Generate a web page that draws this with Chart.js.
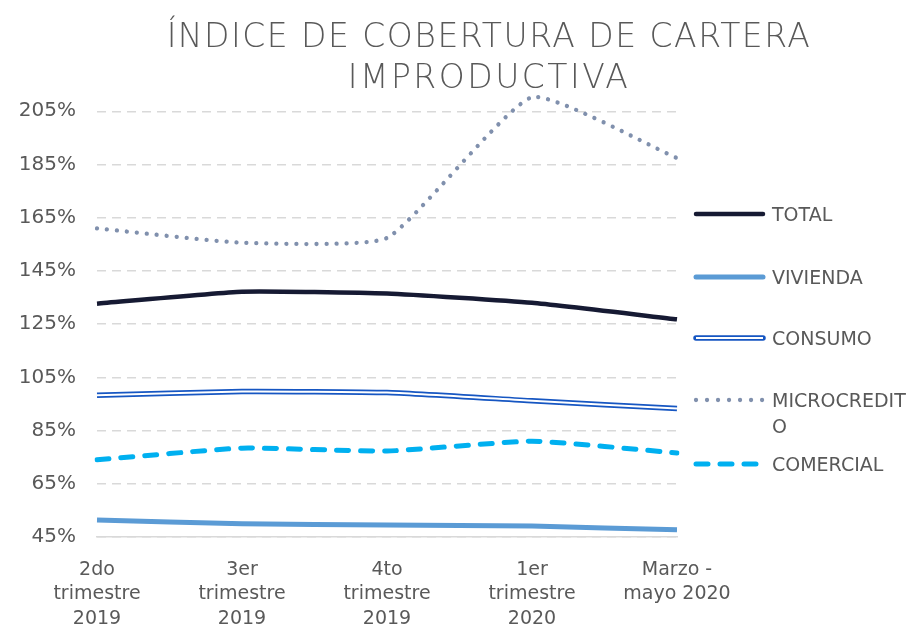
<!DOCTYPE html>
<html>
<head>
<meta charset="utf-8">
<script src="https://cdn.jsdelivr.net/npm/chart.js@4/dist/chart.umd.min.js"></script>
<style>
    html, body { margin: 0; padding: 0; background: #fff; }
    #wrap { position: relative; width: 920px; height: 628px; font-family: "DejaVu Sans", sans-serif; color: #595959; }
    #titulo {
        position: absolute; left: 29px; width: 920px; top: 15px;
        text-align: center; font-size: 33px; line-height: 41px; font-weight: 200;
        pointer-events: none;
    }
    #titulo .l1 { letter-spacing: 1.5px; }
    #titulo .l2 { letter-spacing: 2.5px; }
    #leyenda { position: absolute; left: 693px; top: 0; font-size: 19px; }
    .item { position: absolute; left: 0; display: flex; align-items: flex-start; }
    .item svg { flex: none; margin-right: 3px; }
    .item span { line-height: 26px; white-space: nowrap; }
</style>
</head>
<body>
<div id="wrap">
    <canvas id="grafico" width="920" height="628"></canvas>
    <div id="titulo"><span class="l1">ÍNDICE DE COBERTURA DE CARTERA</span><br><span class="l2">IMPRODUCTIVA</span></div>
    <div id="leyenda"></div>
</div>
<script>
// Datos
const periodos = [
    ['2do', 'trimestre', '2019'],
    ['3er', 'trimestre', '2019'],
    ['4to', 'trimestre', '2019'],
    ['1er', 'trimestre', '2020'],
    ['Marzo -', 'mayo 2020']
];
const total = [132.7, 137.2, 136.5, 133.0, 126.8];
const vivienda = [51.4, 50.0, 49.5, 49.1, 47.7];
const consumo = [98.3, 99.7, 99.3, 96.2, 93.3];
const microcredito = [161.0, 155.6, 157.4, 210.3, 187.4];
const comercial = [74.0, 78.4, 77.3, 81.0, 76.6];
const ticksY = [45, 65, 85, 105, 125, 145, 165, 185, 205];

// Colores
const cTotal = '#161a33';
const cVivienda = '#5b9bd5';
const cConsumo = '#1656c2';
const cMicro = '#8090ad';
const cComercial = '#00b0f0';

const canvas = document.getElementById('grafico');

const datasets = [
    // línea blanca interior de CONSUMO (doble línea)
    { label: '_consumoInterior', data: consumo, borderColor: '#ffffff', borderWidth: 2, order: 0 },
    { label: 'TOTAL', data: total, borderColor: cTotal, borderWidth: 4.5, order: 1 },
    { label: 'VIVIENDA', data: vivienda, borderColor: cVivienda, borderWidth: 5, order: 1 },
    { label: 'CONSUMO', data: consumo, borderColor: cConsumo, borderWidth: 5.5, order: 1 },
    { label: 'MICROCREDITO', data: microcredito, borderColor: cMicro, borderWidth: 4.3,
      borderDash: [0.01, 10], borderCapStyle: 'round', order: 1 },
    { label: 'COMERCIAL', data: comercial, borderColor: cComercial, borderWidth: 5,
      borderDash: [12, 12], borderCapStyle: 'round', order: 1 }
];

const fuente = { family: '"DejaVu Sans", sans-serif', size: 19 };

new Chart(canvas, {
    type: 'line',
    data: { labels: periodos, datasets: datasets },
    options: {
        responsive: false,
        animation: false,
        layout: { padding: { left: 0, right: 243, top: 90, bottom: 0 } },
        elements: {
            point: { radius: 0 },
            line: { tension: 0.15, fill: false, borderJoinStyle: 'round' }
        },
        plugins: {
            legend: { display: false },
            title: { display: false },
            tooltip: { enabled: false }
        },
        scales: {
            x: {
                offset: false,
                grid: { display: false, drawTicks: false },
                border: { display: true, color: '#d9d9d9', width: 1.5 },
                ticks: { color: '#595959', font: { ...fuente, lineHeight: 1.28 }, padding: 21, maxRotation: 0, autoSkip: false },
                afterFit: axis => { axis.height = 91; }
            },
            y: {
                min: 45,
                max: 213,
                afterBuildTicks: axis => { axis.ticks = ticksY.map(v => ({ value: v })); },
                grid: { color: '#d9d9d9', lineWidth: 1.5, drawTicks: false },
                border: { display: false, dash: [9, 6] },
                ticks: { color: '#595959', font: { ...fuente, size: 20 }, padding: 21, callback: v => v + '%' },
                afterFit: axis => { axis.width = 97; }
            }
        }
    }
});

// Leyenda en HTML con muestras de línea
const leyenda = [
    { texto: 'TOTAL', y: 201, svg: `<line x1="3" y1="13" x2="70" y2="13" stroke="${cTotal}" stroke-width="4.5" stroke-linecap="round"/>` },
    { texto: 'VIVIENDA', y: 264, svg: `<line x1="3" y1="13" x2="70" y2="13" stroke="${cVivienda}" stroke-width="5" stroke-linecap="round"/>` },
    { texto: 'CONSUMO', y: 325, svg: `<line x1="3" y1="13" x2="70" y2="13" stroke="${cConsumo}" stroke-width="5.5" stroke-linecap="round"/><line x1="3" y1="13" x2="70" y2="13" stroke="#fff" stroke-width="2"/>` },
    { texto: 'MICROCREDIT<br>O', y: 387, svg: `<line x1="3" y1="13" x2="72" y2="13" stroke="${cMicro}" stroke-width="4.3" stroke-linecap="round" stroke-dasharray="0.01 11"/>` },
    { texto: 'COMERCIAL', y: 451, svg: `<line x1="3" y1="13" x2="70" y2="13" stroke="${cComercial}" stroke-width="5" stroke-linecap="round" stroke-dasharray="12 12"/>` }
];
const contLeyenda = document.getElementById('leyenda');
leyenda.forEach(item => {
    const el = document.createElement('div');
    el.className = 'item';
    el.style.top = item.y + 'px';
    el.innerHTML = `<svg width="76" height="26">${item.svg}</svg><span>${item.texto}</span>`;
    contLeyenda.appendChild(el);
});
</script>
</body>
</html>
